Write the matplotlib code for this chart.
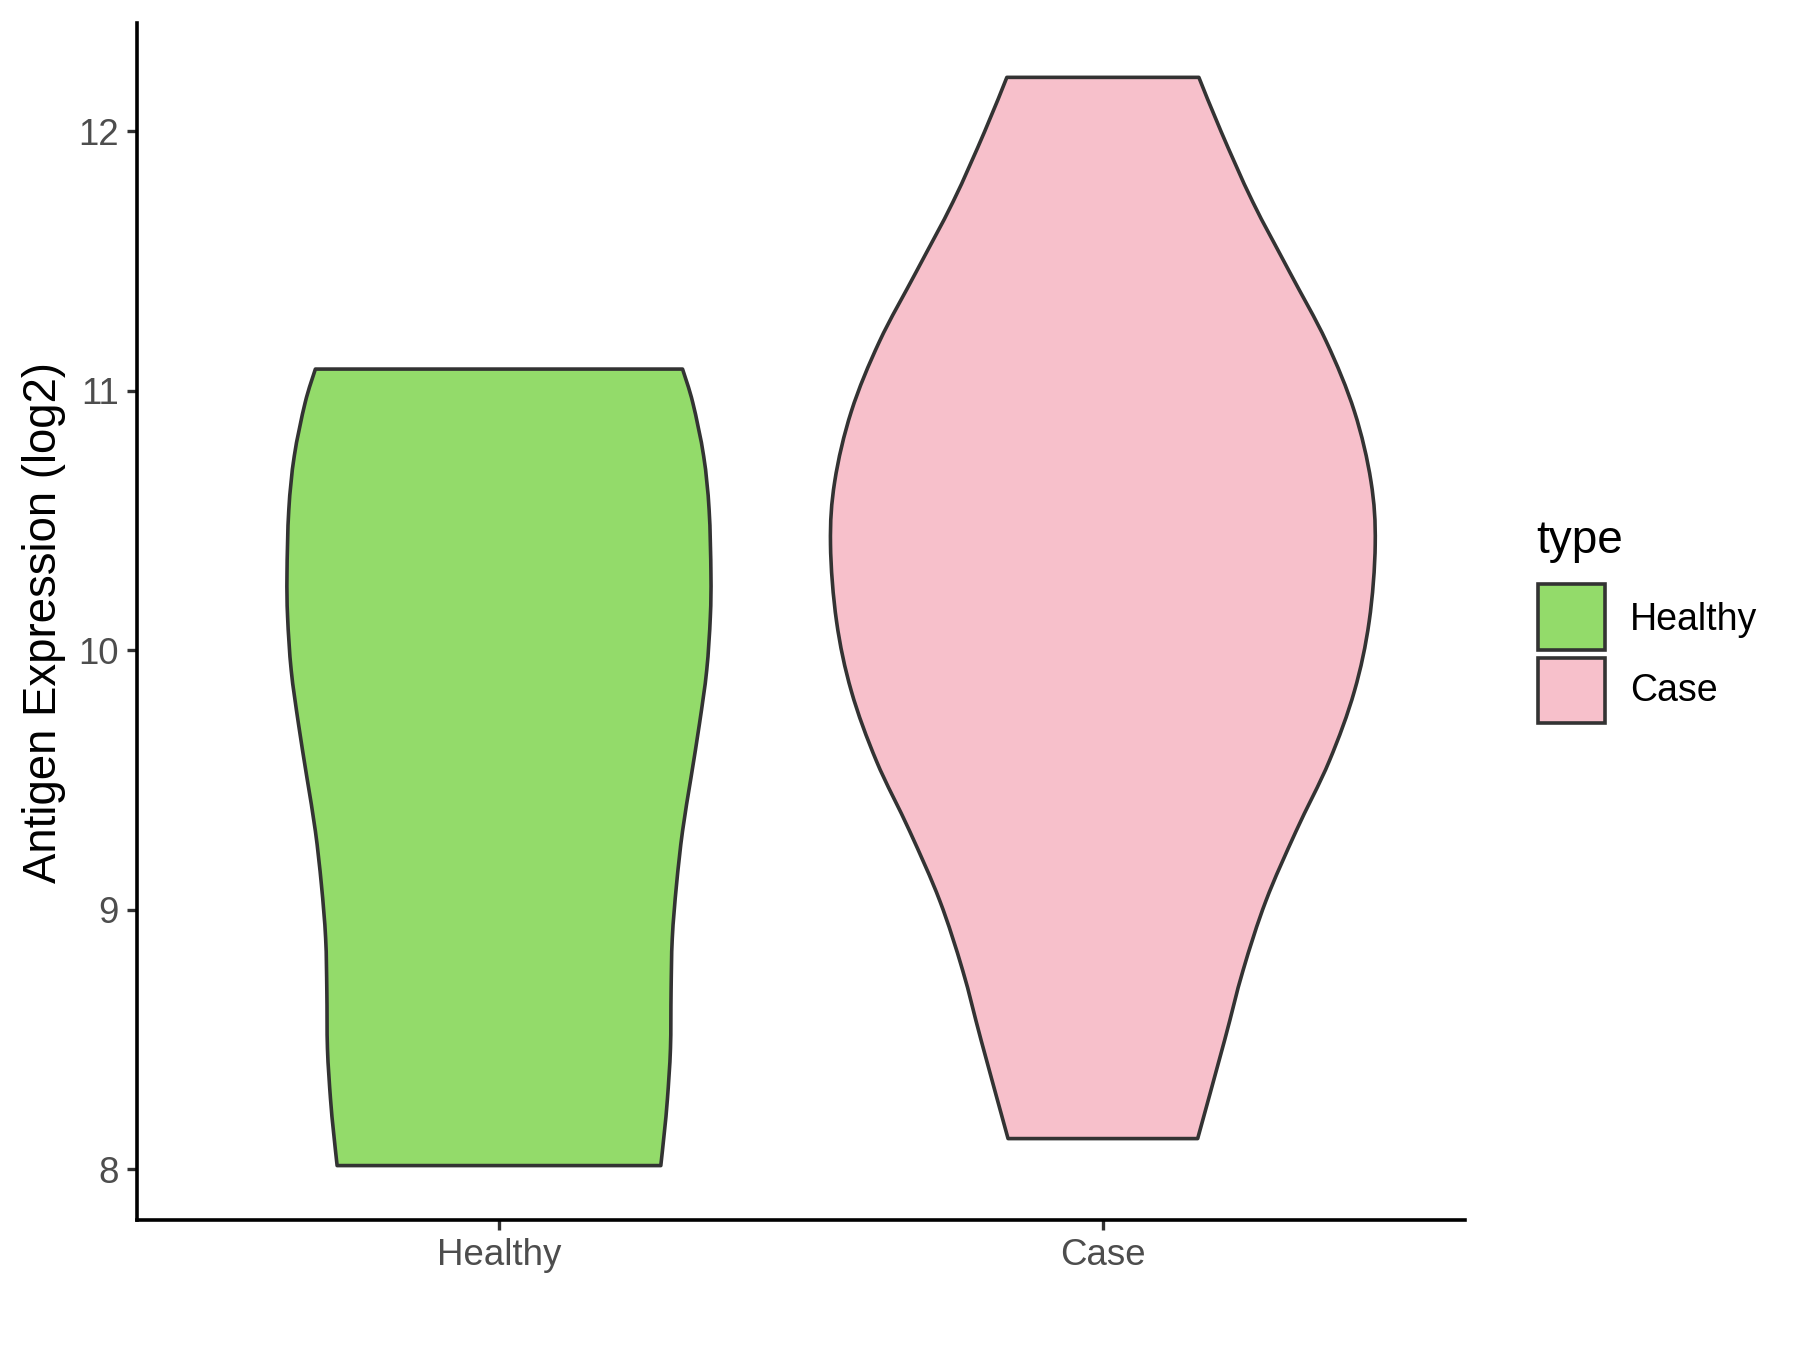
import numpy as np
import matplotlib.pyplot as plt
from matplotlib.path import Path
from matplotlib.patches import PathPatch, Rectangle

plt.rcParams['font.family'] = ['Liberation Sans', 'DejaVu Sans']

# categories and fill colours
groups = ['Healthy', 'Case']
colors = ['#93DB6A', '#F7C0CB']

# violin outlines: y value and half-width (x units)
healthy_y = [8.015, 8.146, 8.273, 8.466, 8.685, 8.891, 9.097, 9.304, 9.510, 9.717,
             9.923, 10.129, 10.294, 10.542, 10.748, 10.954, 11.084]
healthy_hw = [0.268, 0.274, 0.279, 0.284, 0.285, 0.287, 0.294, 0.304, 0.318, 0.332,
              0.344, 0.350, 0.351, 0.348, 0.339, 0.321, 0.304]

case_y = [8.119, 8.497, 8.766, 9.035, 9.304, 9.574, 9.843, 10.112, 10.409, 10.651,
          10.921, 11.190, 11.459, 11.729, 11.998, 12.208]
case_hw = [0.157, 0.2015, 0.232, 0.270, 0.320, 0.375, 0.4165, 0.441, 0.451, 0.444,
           0.4165, 0.370, 0.309, 0.248, 0.196, 0.159]

profiles = [(healthy_y, healthy_hw), (case_y, case_hw)]


def smooth_side(pts):
    # Catmull-Rom through the points, as cubic bezier path codes
    pts = np.asarray(pts)
    n = len(pts)
    verts = [pts[0]]
    codes = []
    for i in range(n - 1):
        p0 = pts[max(i - 1, 0)]
        p1 = pts[i]
        p2 = pts[i + 1]
        p3 = pts[min(i + 2, n - 1)]
        verts += [p1 + (p2 - p0) / 6, p2 - (p3 - p1) / 6, p2]
        codes += [Path.CURVE4] * 3
    return verts, codes


fig = plt.figure(figsize=(9, 6.75), dpi=200)
ax = fig.add_axes([0.0759, 0.0963, 0.7381, 0.8867])

for i, ((ys, hws), col) in enumerate(zip(profiles, colors)):
    xc = i + 1
    left = [(xc - w, y) for y, w in zip(ys, hws)]
    right = [(xc + w, y) for y, w in zip(ys[::-1], hws[::-1])]
    lv, lc = smooth_side(left)
    rv, rc = smooth_side(right)
    verts = lv + rv + [lv[0]]
    codes = [Path.MOVETO] + lc + [Path.LINETO] + rc + [Path.CLOSEPOLY]
    patch = PathPatch(Path(verts, codes), facecolor=col, edgecolor='#333333',
                      linewidth=1.3, joinstyle='round')
    ax.add_patch(patch)

lo = min(min(healthy_y), min(case_y))
hi = max(max(healthy_y), max(case_y))
pad = (hi - lo) * 0.05
ax.set_ylim(lo - pad, hi + pad)
ax.set_xlim(0.4, 2.6)

ax.set_xticks([1, 2])
ax.set_xticklabels(groups)
ax.set_yticks([8, 9, 10, 11, 12])
for s in ['top', 'right']:
    ax.spines[s].set_visible(False)
for s in ['left', 'bottom']:
    ax.spines[s].set_linewidth(1.3)
    ax.spines[s].set_color('black')
ax.tick_params(axis='both', length=3.5, width=1.2, color='#333333',
               labelcolor='#4D4D4D', labelsize=13.2, pad=3)

fig.text(0.0245, 0.539, 'Antigen Expression (log2)', rotation=90,
         ha='center', va='center', fontsize=16.4)

# legend
fig.text(0.8533, 0.5993, 'type', ha='left', va='center', fontsize=16.5)
key_y = [(0.5185, 0.5674), (0.4644, 0.5126)]
lab_y = [0.5407, 0.4881]
for (y0, y1), col, g, ly in zip(key_y, colors, groups, lab_y):
    fig.add_artist(Rectangle((0.8544, y0), 0.0373, y1 - y0, transform=fig.transFigure,
                             facecolor=col, edgecolor='#333333', linewidth=1.3))
    fig.text(0.9056, ly, g, ha='left', va='center', fontsize=13.5)

fig.savefig('out.png', dpi=200, facecolor='white')
